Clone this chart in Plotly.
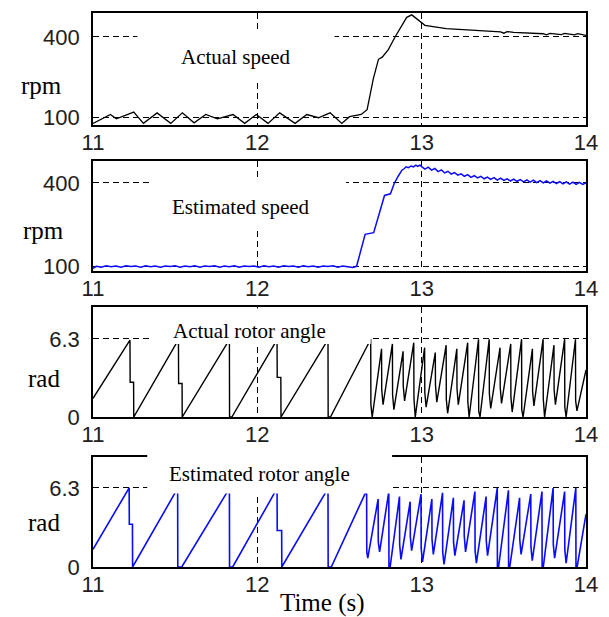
import plotly.graph_objects as go

# ---------------------------------------------------------------- data
TIME_TICKS = [11, 12, 13, 14]
SPEED_TICKS = [100, 400]
SPEED_TICK_TEXT = ["100", "400"]
ANGLE_TICKS = [0, 6.3]
ANGLE_TICK_TEXT = ["0", "6.3"]

# Actual speed (rpm)
ACT_SPD_T = [
    11.000, 11.106, 11.142, 11.190, 11.248, 11.307, 11.390, 11.473, 11.544, 11.615,
    11.686, 11.757, 11.852, 11.923, 11.994, 12.065, 12.136, 12.230, 12.301, 12.372,
    12.443, 12.514, 12.561, 12.632, 12.668, 12.706, 12.737, 12.760, 12.797, 12.838,
    12.879, 12.909, 12.940, 12.970, 13.000, 13.020, 13.150, 13.300, 13.480, 13.500,
    13.520, 13.560, 13.740, 13.760, 13.780, 13.850, 13.870, 13.930, 13.950, 14.000,
]
ACT_SPD = [
    79, 112, 96, 106, 121, 79, 118, 79, 118, 81,
    112, 96, 112, 79, 112, 79, 118, 79, 112, 100,
    118, 79, 104, 112, 130, 245, 317, 325, 353, 400,
    443, 473, 482, 467, 450, 443, 431, 425, 419, 414,
    420, 417, 412, 408, 413, 409, 413, 408, 412, 406,
]

# Estimated speed (rpm)
EST_SPD_T = [
    11.00, 11.02, 11.05, 11.08, 11.11, 11.14, 11.17, 11.20, 11.23, 11.26,
    11.29, 11.32, 11.35, 11.38, 11.41, 11.44, 11.47, 11.50, 11.53, 11.56,
    11.59, 11.62, 11.65, 11.68, 11.71, 11.74, 11.77, 11.80, 11.83, 11.86,
    11.89, 11.92, 11.95, 11.98, 12.01, 12.04, 12.07, 12.10, 12.13, 12.16,
    12.19, 12.22, 12.25, 12.28, 12.31, 12.34, 12.37, 12.40, 12.43, 12.46,
    12.49, 12.52, 12.55, 12.58, 12.604, 12.656, 12.708, 12.774, 12.810, 12.833,
    12.858, 12.880, 12.895, 12.905, 12.920, 12.935, 12.950, 12.965, 12.975, 12.990,
    13.000, 13.02, 13.04, 13.06, 13.08, 13.10, 13.12, 13.14, 13.16, 13.18,
    13.20, 13.22, 13.24, 13.26, 13.28, 13.30, 13.32, 13.34, 13.36, 13.38,
    13.40, 13.42, 13.44, 13.46, 13.48, 13.50, 13.52, 13.54, 13.56, 13.58,
    13.60, 13.62, 13.64, 13.66, 13.68, 13.70, 13.72, 13.74, 13.76, 13.78,
    13.80, 13.82, 13.84, 13.86, 13.88, 13.90, 13.92, 13.94, 13.96, 13.98,
    14.00,
]
EST_SPD = [
    92, 100, 97, 102, 98, 101, 97, 102, 99, 101,
    97, 102, 98, 101, 97, 101, 99, 102, 97, 101,
    98, 102, 97, 101, 99, 102, 97, 101, 98, 102,
    97, 101, 99, 101, 97, 102, 98, 101, 97, 102,
    99, 101, 97, 102, 98, 101, 97, 101, 99, 102,
    97, 101, 98, 96, 100, 215, 221, 355, 361, 398,
    425, 446, 452, 458, 455, 461, 458, 464, 460, 464,
    459, 450, 457, 446, 452, 441, 447, 436, 442, 432,
    437, 428, 433, 424, 430, 420, 426, 418, 424, 415,
    421, 413, 419, 410, 417, 409, 415, 407, 414, 406,
    412, 404, 411, 403, 410, 401, 408, 400, 407, 399,
    406, 398, 405, 397, 404, 396, 403, 395, 402, 395,
    400,
]

# Actual rotor angle (rad)
ACT_ANG_T = [
    11.000, 11.225, 11.226, 11.247, 11.248, 11.520, 11.521, 11.542, 11.543, 11.830,
    11.831, 11.845, 12.120, 12.121, 12.143, 12.144, 12.430, 12.431, 12.445, 12.690,
    12.691, 12.699, 12.756, 12.757, 12.765, 12.822, 12.823, 12.831, 12.887, 12.888,
    12.896, 12.952, 12.953, 12.961, 13.018, 13.019, 13.027, 13.083, 13.084, 13.092,
    13.149, 13.150, 13.158, 13.214, 13.215, 13.223, 13.280, 13.281, 13.289, 13.346,
    13.347, 13.355, 13.411, 13.412, 13.420, 13.477, 13.478, 13.486, 13.542, 13.543,
    13.551, 13.608, 13.609, 13.617, 13.674, 13.675, 13.683, 13.739, 13.740, 13.748,
    13.805, 13.806, 13.814, 13.870, 13.871, 13.879, 13.936, 13.937, 13.945, 14.000,
]
ACT_ANG = [
    1.50, 6.20, 2.80, 2.80, 0.00, 6.25, 2.70, 2.70, 0.00, 6.25,
    0.00, 0.00, 6.25, 3.20, 3.20, 0.00, 6.25, 0.00, 0.00, 6.28,
    1.00, 0.00, 5.50, 2.20, 1.00, 5.90, 1.80, 0.60, 5.30, 2.50,
    1.30, 6.00, 1.50, 0.00, 5.60, 2.00, 0.80, 5.20, 2.60, 1.20,
    5.80, 1.40, 0.30, 5.50, 2.30, 1.00, 6.00, 1.20, 0.00, 6.28,
    0.50, 0.00, 6.28, 1.90, 0.70, 5.60, 2.40, 1.10, 5.90, 1.60,
    0.40, 6.28, 0.60, 0.00, 5.50, 2.10, 0.90, 6.28, 1.50, 0.00,
    5.80, 2.20, 1.00, 6.28, 0.80, 0.00, 6.28, 1.30, 0.50, 3.80,
]

# Estimated rotor angle (rad)
EST_ANG_T = [
    11.000, 11.220, 11.221, 11.240, 11.241, 11.515, 11.516, 11.540, 11.830, 11.831,
    11.850, 12.120, 12.121, 12.148, 12.149, 12.430, 12.431, 12.450, 12.665, 12.666,
    12.672, 12.735, 12.736, 12.744, 12.800, 12.801, 12.808, 12.865, 12.866, 12.874,
    12.930, 12.931, 12.939, 12.996, 12.997, 13.005, 13.062, 13.063, 13.071, 13.127,
    13.128, 13.136, 13.193, 13.194, 13.202, 13.258, 13.259, 13.267, 13.324, 13.325,
    13.333, 13.392, 13.393, 13.401, 13.460, 13.461, 13.468, 13.528, 13.529, 13.536,
    13.596, 13.597, 13.605, 13.664, 13.665, 13.673, 13.732, 13.733, 13.740, 13.800,
    13.801, 13.809, 13.870, 13.871, 13.879, 13.938, 13.939, 13.946, 14.000,
]
EST_ANG = [
    1.40, 6.30, 3.40, 3.40, 0.00, 6.25, 0.00, 0.00, 6.25, 0.00,
    0.00, 6.25, 2.90, 2.90, 0.00, 6.25, 0.00, 0.00, 6.10, 1.20,
    0.70, 5.40, 2.00, 1.20, 6.00, 0.00, 0.00, 5.60, 1.80, 0.60,
    5.20, 2.40, 1.30, 5.80, 1.50, 0.40, 5.40, 2.20, 1.00, 5.90,
    1.20, 0.20, 5.50, 2.00, 0.90, 5.30, 2.50, 1.20, 6.00, 1.30,
    0.30, 5.60, 2.10, 0.90, 6.28, 0.00, 0.00, 6.10, 0.00, 0.00,
    5.50, 2.20, 1.00, 5.80, 1.60, 0.50, 6.00, 0.00, 0.00, 6.28,
    1.80, 0.70, 6.00, 1.40, 0.30, 6.28, 0.00, 0.00, 4.20,
]

PANEL_TITLES = ["Actual speed", "Estimated speed", "Actual rotor angle", "Estimated rotor angle"]
UNITS = ["rpm", "rpm", "rad", "rad"]
X_TITLE = "Time (s)"

# ---------------------------------------------------------------- geometry (pixels)
W, H = 609, 617
LEFT, RIGHT, TOP, BOTTOM = 93, 586, 13, 567

panels = [
    dict(top=13, bottom=125, yrange=[73, 489], tickvals=SPEED_TICKS, ticktext=SPEED_TICK_TEXT,
         t=ACT_SPD_T, v=ACT_SPD, color="#000000", width=1.3),
    dict(top=161, bottom=271, yrange=[83, 479], tickvals=SPEED_TICKS, ticktext=SPEED_TICK_TEXT,
         t=EST_SPD_T, v=EST_SPD, color="#0a0aff", width=1.5),
    dict(top=307, bottom=417, yrange=[0, 8.88], tickvals=ANGLE_TICKS, ticktext=ANGLE_TICK_TEXT,
         t=ACT_ANG_T, v=ACT_ANG, color="#000000", width=1.4),
    dict(top=457, bottom=567, yrange=[0, 8.75], tickvals=ANGLE_TICKS, ticktext=ANGLE_TICK_TEXT,
         t=EST_ANG_T, v=EST_ANG, color="#0a0aff", width=1.6),
]


def px_x(px):
    return (px - LEFT) / (RIGHT - LEFT)


def px_y(py):
    return (BOTTOM - py) / (BOTTOM - TOP)


TICK_FONT = dict(family="Liberation Sans", size=22, color="#202020")
SERIF = "Liberation Serif"
GRID_DASH = "6px,4px"

fig = go.Figure()
layout = dict(
    width=W, height=H,
    margin=dict(l=LEFT, r=W - RIGHT, t=TOP, b=H - BOTTOM, pad=0),
    paper_bgcolor="white", plot_bgcolor="white",
    showlegend=False,
)

for i, p in enumerate(panels, start=1):
    sfx = "" if i == 1 else str(i)
    fig.add_trace(go.Scatter(
        x=p["t"], y=p["v"], mode="lines",
        line=dict(color=p["color"], width=p["width"]),
        xaxis="x" + sfx, yaxis="y" + sfx, hoverinfo="skip",
    ))
    dom = [px_y(p["bottom"]), px_y(p["top"])]
    layout["xaxis" + sfx] = dict(
        domain=[0, 1], anchor="y" + sfx, range=[11, 14],
        tickvals=TIME_TICKS, ticktext=[str(v) for v in TIME_TICKS],
        tickfont=TICK_FONT, ticks="", ticklabelstandoff=-3,
        showgrid=True, gridcolor="black", gridwidth=1.3, griddash=GRID_DASH,
        showline=True, mirror=True, linecolor="black", linewidth=1.6,
        zeroline=False, fixedrange=True,
    )
    layout["yaxis" + sfx] = dict(
        domain=dom, anchor="x" + sfx, range=p["yrange"],
        tickvals=p["tickvals"], ticktext=p["ticktext"],
        tickfont=TICK_FONT, ticks="", ticklabelstandoff=7,
        showgrid=True, gridcolor="black", gridwidth=1.3, griddash=GRID_DASH,
        showline=True, mirror=True, linecolor="black", linewidth=1.6,
        zeroline=False, fixedrange=True,
    )

# white label patches laid over the grid (x in seconds, y in axis units)
shapes = [
    dict(type="rect", xref="x", yref="y", x0=11.27, x1=12.47, y0=240, y1=425),
    dict(type="rect", xref="x2", yref="y2", x0=11.35, x1=12.54, y0=229, y1=421),
    dict(type="rect", xref="x3", yref="y3", x0=11.355, x1=12.69, y0=5.9, y1=8.76),
]
# the last patch also covers the top frame of its panel
p4 = panels[3]
dom4_lo, dom4_hi = px_y(p4["bottom"]), px_y(p4["top"])
shapes.append(dict(
    type="rect", xref="paper", yref="paper",
    x0=(11.33 - 11) / 3, x1=(12.82 - 11) / 3,
    y0=dom4_lo + (dom4_hi - dom4_lo) * 5.85 / p4["yrange"][1],
    y1=dom4_hi + 5 / (BOTTOM - TOP),
))
for s in shapes:
    s.update(fillcolor="white", line=dict(width=0), layer="above")
layout["shapes"] = shapes

annotations = []
title_pos = [(236, 57), (241, 207), (249, 331), (259, 474)]
for text, (px, py) in zip(PANEL_TITLES, title_pos):
    annotations.append(dict(
        text=text, x=px_x(px), y=px_y(py), xref="paper", yref="paper",
        xanchor="center", yanchor="middle", showarrow=False,
        font=dict(family=SERIF, size=21, color="black"),
    ))
unit_pos = [(41, 86), (43, 230), (44, 378), (44, 522)]
for text, (px, py) in zip(UNITS, unit_pos):
    annotations.append(dict(
        text=text, x=px_x(px), y=px_y(py), xref="paper", yref="paper",
        xanchor="center", yanchor="middle", showarrow=False,
        font=dict(family=SERIF, size=25, color="black"),
    ))
annotations.append(dict(
    text=X_TITLE, x=px_x(322), y=px_y(603), xref="paper", yref="paper",
    xanchor="center", yanchor="middle", showarrow=False,
    font=dict(family=SERIF, size=25, color="black"),
))
layout["annotations"] = annotations

fig.update_layout(**layout)
fig.write_html("out.html", config=dict(displayModeBar=False))
